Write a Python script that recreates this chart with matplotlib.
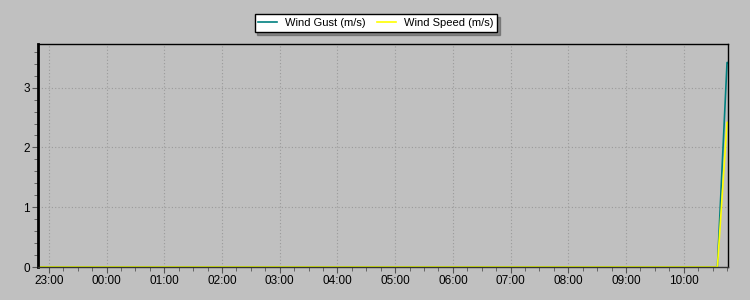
import pandas as pd
import matplotlib
matplotlib.use('Agg')
import matplotlib.pyplot as plt
import matplotlib.dates as mdates

plt.rcParams['font.family'] = ['Liberation Sans', 'DejaVu Sans']

# Data (flat zero until the last reading)
times = ['2024-01-01 22:49', '2024-01-02 10:35', '2024-01-02 10:45', '2024-01-02 10:46']
wind_gust = [0.0, 0.0, 3.42, 3.42]
wind_speed = [0.0, 0.0, 2.42, 2.42]

t = pd.to_datetime(times)

fig = plt.figure(figsize=(7.5, 3), dpi=100, facecolor='#c0c0c0')
ax = fig.add_axes([38 / 750, 33 / 300, 690 / 750, 223 / 300])
ax.set_facecolor('#c0c0c0')

ax.plot(t, wind_gust, color='#008080', lw=1.2, label='Wind Gust (m/s)')
ax.plot(t, wind_speed, color='#ffff00', lw=1.2, label='Wind Speed (m/s)')

ax.set_xlim(pd.Timestamp('2024-01-01 22:48:40'), pd.Timestamp('2024-01-02 10:46'))
ax.set_ylim(0, 3.73)

ax.xaxis.set_major_locator(mdates.HourLocator())
ax.xaxis.set_minor_locator(mdates.MinuteLocator(byminute=[15, 30, 45]))
ax.xaxis.set_major_formatter(mdates.DateFormatter('%H:%M'))
ax.set_yticks([0, 1, 2, 3])
ax.set_yticks([i * 0.2 for i in range(19)], minor=True)

ax.grid(True, which='major', color='#9a9a9a', linestyle=(0, (1, 2)), lw=0.8)
ax.tick_params(which='both', direction='out', color='#555555', labelsize=8.5, pad=2)
ax.tick_params(which='major', length=4)
ax.tick_params(which='minor', length=3)

for side in ['top', 'right', 'bottom']:
    ax.spines[side].set_linewidth(1)
ax.spines['left'].set_linewidth(2)
ax.spines['bottom'].set_color('#333333')

leg = fig.legend(loc='center', bbox_to_anchor=(0.501, 0.923), ncol=2, fontsize=8,
                 frameon=True, fancybox=False, shadow=True, edgecolor='black',
                 handlelength=1.7, handletextpad=0.65, columnspacing=1.1,
                 borderpad=0.35, borderaxespad=0, framealpha=1)
leg.get_frame().set_linewidth(1)

plt.savefig('out.png', dpi=100, facecolor=fig.get_facecolor())
